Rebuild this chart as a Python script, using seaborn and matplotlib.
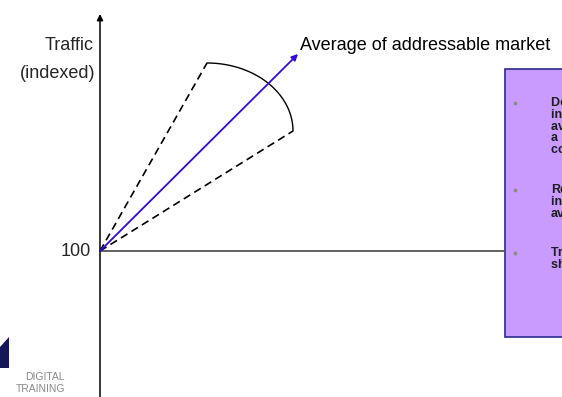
import numpy as np
import pandas as pd
import matplotlib
matplotlib.use("Agg")
import matplotlib.pyplot as plt
import seaborn as sns

sns.set_theme(style="white")
plt.rcParams["font.family"] = ["Liberation Sans", "DejaVu Sans"]

# Diagram coordinates: x = time, y = traffic index (origin at index 100)
origin = (0, 100)
avg_market_end = (198, 297)          # direction of the addressable-market average
range_upper_end = (107, 288)         # upper edge of the traffic cone
range_lower_end = (193, 220)         # lower edge of the traffic cone
arc_center = (107, 220)
arc_radii = (86, 68)
baseline_end_x = 405
axis_top_y = 337

x_limits = (-100, 462)
y_limits = (-46, 351)

box_left, box_bottom, box_top = 405, 14, 282
bullet_groups = [
    ["Deliver traffic", "increase above", "average of the", "a ddressable", "competitive set"],
    ["Realistic", "increase over", "average"],
    ["Traffic trend", "should rise"],
]

fig = plt.figure(figsize=(5.62, 3.97), dpi=100)
ax = fig.add_axes([0, 0, 1, 1])
ax.set_xlim(*x_limits)
ax.set_ylim(*y_limits)
ax.axis("off")

# Baseline at index 100
base = pd.DataFrame({"x": [origin[0], baseline_end_x], "y": [100, 100]})
sns.lineplot(data=base, x="x", y="y", ax=ax, color="#555555", lw=1.3, legend=False)

# Vertical traffic axis with arrowhead
ax.annotate("", xy=(0, axis_top_y), xytext=(0, y_limits[0]),
            arrowprops=dict(arrowstyle="-|>", color="black", lw=1.1,
                            mutation_scale=9, shrinkA=0, shrinkB=0))

# Dashed cone edges
for end in (range_upper_end, range_lower_end):
    edge = pd.DataFrame({"x": [origin[0], end[0]], "y": [origin[1], end[1]]})
    sns.lineplot(data=edge, x="x", y="y", ax=ax, color="black", lw=1.2,
                 linestyle=(0, (4.6, 2.8)), legend=False)

# Arc closing the cone
theta = np.linspace(np.pi / 2, 0, 60)
arc = pd.DataFrame({"x": arc_center[0] + arc_radii[0] * np.cos(theta),
                    "y": arc_center[1] + arc_radii[1] * np.sin(theta)})
sns.lineplot(data=arc, x="x", y="y", ax=ax, color="black", lw=1.0,
             sort=False, legend=False)

# Average of addressable market arrow
ax.annotate("", xy=avg_market_end, xytext=origin,
            arrowprops=dict(arrowstyle="-|>", color="#3308DD", lw=1.3,
                            mutation_scale=9, shrinkA=0, shrinkB=0))

ax.text(avg_market_end[0] + 2, 306, "Average of addressable market",
        fontsize=13, ha="left", va="center", color="black")
ax.text(-6, 306, "Traffic", fontsize=13, ha="right", va="center")
ax.text(-5, 278, "(indexed)", fontsize=13, ha="right", va="center")
ax.text(-9, 100, "100", fontsize=13, ha="right", va="center")

# Commentary box
box = plt.Rectangle((box_left, box_bottom), 200, box_top - box_bottom,
                    facecolor="#C99BFF", edgecolor="#2B2B8C", lw=1.2)
ax.add_patch(box)
line_step = 11.8
group_starts = [248, 161, 98]
for start, lines in zip(group_starts, bullet_groups):
    ax.plot([415], [start], marker="o", ms=2.8, color="#8C8C8C", mec="none")
    for i, line in enumerate(lines):
        ax.text(451, start - i * line_step, line, fontsize=9, fontweight="bold",
                ha="left", va="center", color="#1E1E1E")

# Logo in the corner
logo = plt.Polygon([(-100, 4), (-91, 14), (-91, -17), (-100, -17)],
                   closed=True, facecolor="#16165A", edgecolor="none")
ax.add_patch(logo)
ax.text(-35, -26, "DIGITAL", fontsize=7.5, ha="right", va="center",
        color="#8A8A8A", fontstretch="condensed")
ax.text(-35, -38, "TRAINING", fontsize=7.5, ha="right", va="center",
        color="#8A8A8A", fontstretch="condensed")

fig.savefig("out.png", dpi=100)
